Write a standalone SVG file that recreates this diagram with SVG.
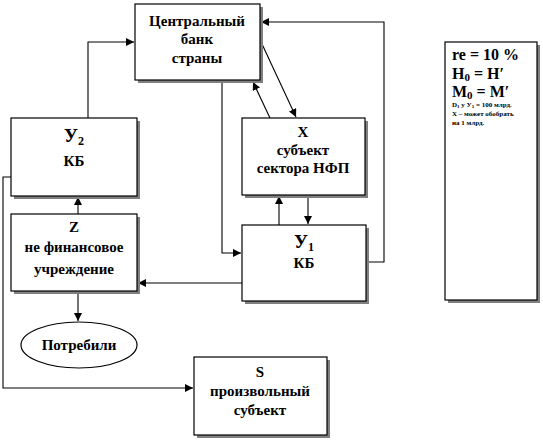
<svg xmlns="http://www.w3.org/2000/svg" width="543" height="440" viewBox="0 0 543 440">
<style>
.box{fill:#fff;stroke:#000;stroke-width:1.2}
.sh{fill:#808080}
.t{font-family:"Liberation Serif","Times New Roman",serif;font-weight:bold;font-size:15px;text-anchor:middle;fill:#000}
.big{font-size:19px}
.s{font-size:7px;text-anchor:start}
.l{text-anchor:start;font-size:16px}
.c{fill:none;stroke:#000;stroke-width:1.1}
</style>
<defs>
<marker id="a" viewBox="0 0 10 10" refX="10" refY="5" markerWidth="8" markerHeight="8" markerUnits="userSpaceOnUse" orient="auto">
<path d="M0,0 L10,5 L0,10 z" fill="#000"/>
</marker>
</defs>
<rect width="543" height="440" fill="#fff"/>
<g id="connectors">
<path class="c" d="M88,118 V42 H134" marker-end="url(#a)"/>
<path class="c" d="M366,262 H384 V22 H261" marker-end="url(#a)"/>
<path class="c" d="M222,80 V253 H241" marker-end="url(#a)"/>
<path class="c" d="M270,118 L253,82" marker-end="url(#a)"/>
<path class="c" d="M262,44 L296,117" marker-end="url(#a)"/>
<path class="c" d="M279,225 V196" marker-end="url(#a)"/>
<path class="c" d="M308,195 V224" marker-end="url(#a)"/>
<path class="c" d="M242,283 H138" marker-end="url(#a)"/>
<path class="c" d="M78,214 V197" marker-end="url(#a)"/>
<path class="c" d="M78,291 V321" marker-end="url(#a)"/>
<path class="c" d="M11,177 H3 V388 H193" marker-end="url(#a)"/>
</g>
<g id="cb">
<rect class="sh" x="138" y="7" width="125" height="76"/>
<rect class="box" x="135" y="4" width="125" height="76"/>
<text class="t" x="197" y="26">Центральный</text>
<text class="t" x="197" y="44">банк</text>
<text class="t" x="197" y="63">страны</text>
</g>
<g id="u2">
<rect class="sh" x="14" y="121" width="126" height="78"/>
<rect class="box" x="11" y="118" width="126" height="78"/>
<text class="t big" x="74" y="142">У<tspan font-size="12" dy="3">2</tspan></text>
<text class="t" x="74" y="166">КБ</text>
</g>
<g id="x">
<rect class="sh" x="245" y="121" width="123" height="77"/>
<rect class="box" x="242" y="118" width="123" height="77"/>
<text class="t" x="303" y="137">X</text>
<text class="t" x="303" y="155">субъект</text>
<text class="t" x="303" y="173">сектора НФП</text>
</g>
<g id="z">
<rect class="sh" x="14" y="217" width="126" height="77"/>
<rect class="box" x="11" y="214" width="126" height="77"/>
<text class="t" x="74" y="232">Z</text>
<text class="t" x="74" y="252">не финансовое</text>
<text class="t" x="74" y="274">учреждение</text>
</g>
<g id="u1">
<rect class="sh" x="245" y="228" width="124" height="76"/>
<rect class="box" x="242" y="225" width="124" height="76"/>
<text class="t big" x="304" y="248">У<tspan font-size="12" dy="3">1</tspan></text>
<text class="t" x="304" y="268">КБ</text>
</g>
<g id="consumed">
<ellipse class="box" cx="79" cy="345" rx="58" ry="23"/>
<text class="t" x="79" y="350">Потребили</text>
</g>
<g id="s">
<rect class="sh" x="197" y="360" width="133" height="78"/>
<rect class="box" x="194" y="357" width="133" height="78"/>
<text class="t" x="260" y="377">S</text>
<text class="t" x="260" y="396">произвольный</text>
<text class="t" x="260" y="415">субъект</text>
</g>
<g id="info">
<rect class="sh" x="448" y="45" width="92" height="258"/>
<rect class="box" x="445" y="42" width="92" height="258"/>
<text class="t l" x="452" y="60">re = 10 %</text>
<text class="t l" x="452" y="79">H<tspan font-size="11" dy="2">0</tspan><tspan dy="-2"> = H′</tspan></text>
<text class="t l" x="452" y="97">M<tspan font-size="11" dy="2">0</tspan><tspan dy="-2"> = M′</tspan></text>
<text class="t s" x="452" y="107">D<tspan font-size="5" dy="1">1</tspan><tspan dy="-1"> у У</tspan><tspan font-size="5" dy="1">1</tspan><tspan dy="-1"> = 100 млрд.</tspan></text>
<text class="t s" x="452" y="116">Х – может обобрать</text>
<text class="t s" x="452" y="125">на 1 млрд.</text>
</g>
</svg>
